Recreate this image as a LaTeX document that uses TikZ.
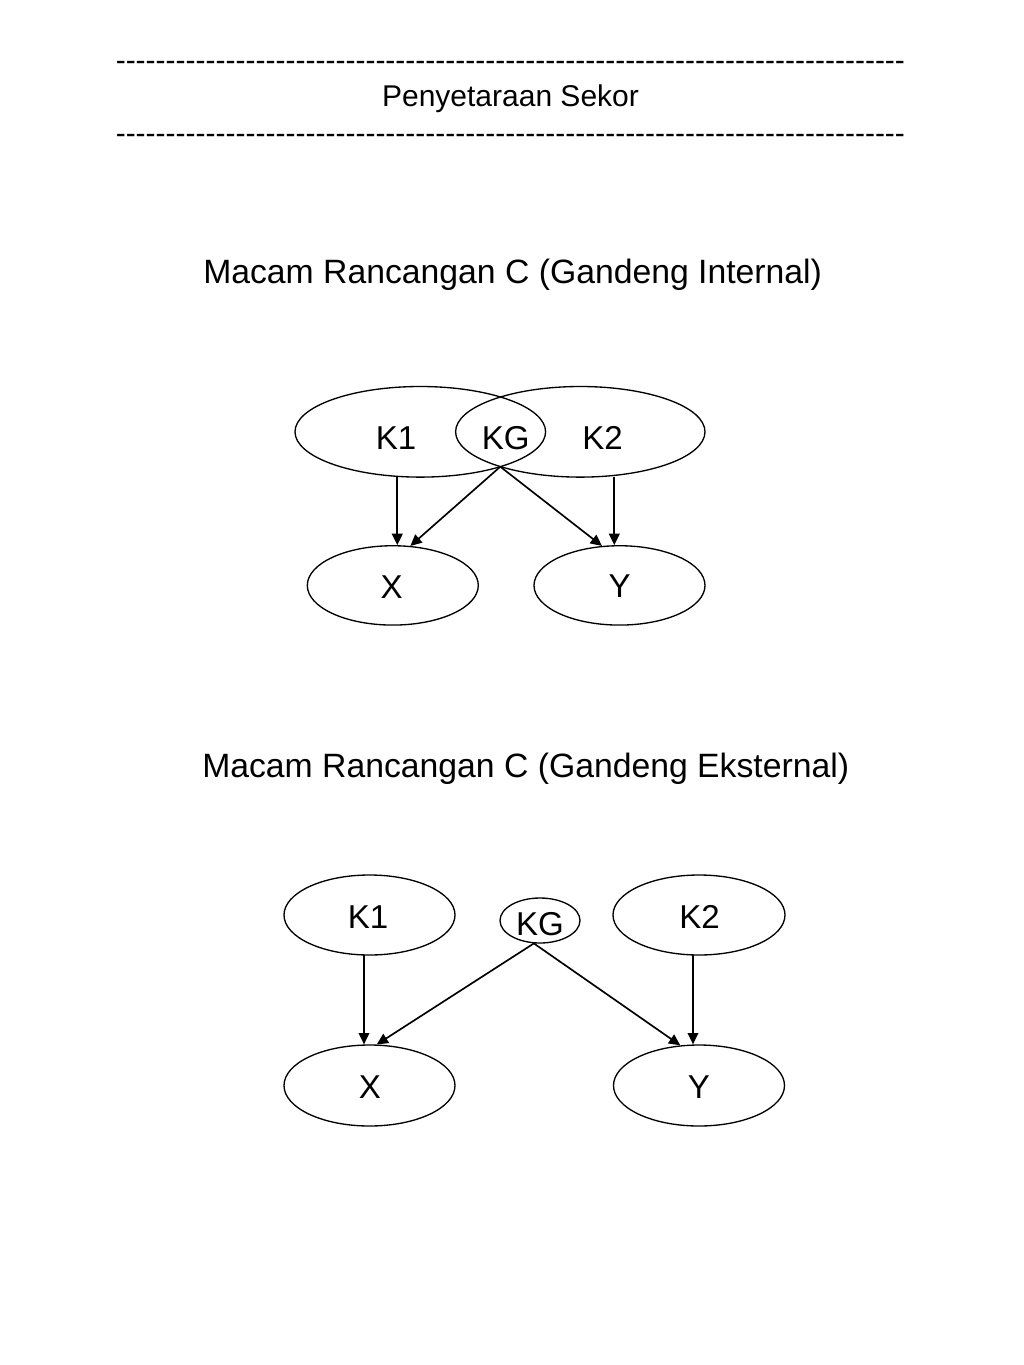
\documentclass[tikz,border=0pt]{standalone}
\usepackage{fontspec}
\setmainfont{Liberation Sans}
\usetikzlibrary{shapes.geometric,arrows.meta}
\newcommand\hyphenrow{\foreach \i in {1,...,79}{-\kern0pt}}
\begin{document}
\begin{tikzpicture}[x=0.75pt,y=-0.75pt,
  oval/.style={draw,ellipse,line width=1pt,inner sep=0pt},
  arr/.style={line width=1.25pt,-{Triangle[length=8.5pt,width=8pt]}},
  lbl/.style={anchor=base,inner sep=0pt,font=\fontsize{24.8pt}{29pt}\selectfont},
  head/.style={anchor=base west,inner sep=0pt,font=\fontsize{25.3pt}{30pt}\selectfont},
  dashrow/.style={anchor=base west,inner sep=0pt,font=\fontsize{22.5pt}{27pt}\selectfont}]
\path[fill=white,use as bounding box] (0,0) rectangle (1024,1365);

% header
\node[dashrow] (dtop) at (115.5,70) {\hyphenrow};
\node[anchor=base,inner sep=0pt,font=\fontsize{22.5pt}{27pt}\selectfont] (title) at (510.5,106.7) {Penyetaraan Sekor};
\node[dashrow] (dbot) at (115.5,143) {\hyphenrow};

% diagram 1
\node[head] (h1) at (203,283) {Macam Rancangan C (Gandeng Internal)};
\node[oval,minimum width=187.95pt,minimum height=67.95pt] (k1e) at (420.3,431.8) {};
\node[oval,minimum width=187.05pt,minimum height=67.95pt] (k2e) at (580.3,431.8) {};
\node[lbl] (k1t) at (396,449) {K1};
\node[lbl] (kgt) at (505.8,449) {KG};
\node[lbl] (k2t) at (602.5,449) {K2};
\node[oval,minimum width=128.25pt,minimum height=59.5pt] (xe) at (392.8,585.4) {};
\node[oval,minimum width=128.25pt,minimum height=59.5pt] (ye) at (619.5,585.4) {};
\node[lbl] (xt) at (391.7,598.3) {X};
\node[lbl] (yt) at (619.7,597.7) {Y};
\coordinate (a1) at (397.3,477);
\coordinate (a2) at (614.3,477);
\coordinate (kgb) at (500.3,466.7);
\draw[arr] (a1) -- (a1 |- xe.north);
\draw[arr] (a2) -- (a2 |- ye.north);
\draw[arr] (kgb) -- (xe.66);
\draw[arr] (kgb) -- (ye.114);

% diagram 2
\node[head] (h2) at (202,777) {Macam Rancangan C (Gandeng Eksternal)};
\node[oval,minimum width=128.25pt,minimum height=60pt] (k1b) at (369.5,915) {};
\node[oval,minimum width=60pt,minimum height=33.75pt] (kgb2) at (540,920.5) {};
\node[oval,minimum width=129pt,minimum height=60pt] (k2b) at (699,915) {};
\node[lbl] (k1bt) at (368,928) {K1};
\node[lbl] (kgbt) at (540,935) {KG};
\node[lbl] (k2bt) at (699.5,928) {K2};
\node[oval,minimum width=128.25pt,minimum height=60.75pt] (x2) at (369.5,1085.5) {};
\node[oval,minimum width=128.25pt,minimum height=60.75pt] (y2) at (699,1085.5) {};
\node[lbl] (x2t) at (370,1098) {X};
\node[lbl] (y2t) at (699,1098) {Y};
\coordinate (c1) at (364,955);
\coordinate (c2) at (693,955);
\draw[arr] (c1) -- (c1 |- x2.north);
\draw[arr] (c2) -- (c2 |- y2.north);
\draw[arr] (kgb2.-105) -- (x2.80);
\draw[arr] (kgb2.-105) -- (y2.115);
\end{tikzpicture}
\end{document}
